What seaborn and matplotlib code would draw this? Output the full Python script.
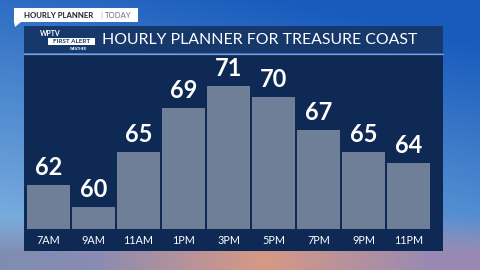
import numpy as np
import pandas as pd
import matplotlib
matplotlib.use("Agg")
import matplotlib.pyplot as plt
import seaborn as sns
from matplotlib.patches import Rectangle, Polygon

# ---- data ----
hours = ["7AM", "9AM", "11AM", "1PM", "3PM", "5PM", "7PM", "9PM", "11PM"]
temps = [62, 60, 65, 69, 71, 70, 67, 65, 64]
title = "HOURLY PLANNER FOR TREASURE COAST"
tab_main = "HOURLY PLANNER"
tab_sub = "TODAY"

sns.set_theme(style="white")
plt.rcParams['font.family'] = ['Lato', 'DejaVu Sans']

W, H = 480, 270
fig = plt.figure(figsize=(4.8, 2.7), dpi=100)


def fx(px):
    return px / W


def fy(py):
    return 1 - py / H


# ---- background (sky + sunset clouds) ----
bg = fig.add_axes([0, 0, 1, 1])
bg.axis('off')
bg.set_zorder(-5)
ys = np.linspace(0, 1, H)[:, None]
xs = np.linspace(0, 1, W)[None, :]
c_dark = np.array([0.10, 0.36, 0.74])
c_light = np.array([0.50, 0.70, 0.88])
s = np.clip(ys * 0.9 + (1 - xs) * 0.35 - 0.15, 0, 1)[..., None]
sky = c_dark * (1 - s) + c_light * s
cl_left = np.array([0.50, 0.55, 0.70])
cl_mid = np.array([0.84, 0.60, 0.52])
cl_right = np.array([0.60, 0.54, 0.70])
hx = xs[..., None]
w_mid = np.clip(1 - np.abs(hx - 0.55) / 0.35, 0, 1)
w_left = np.clip(1 - hx / 0.55, 0, 1) * (1 - w_mid)
w_right = 1 - w_mid - w_left
clouds = cl_left * w_left + cl_mid * w_mid + cl_right * w_right
b = np.clip((ys - 0.80) / 0.14, 0, 1)[..., None]
img = sky * (1 - b) + clouds * b
bg.imshow(img, extent=[0, 1, 0, 1], aspect='auto', zorder=0)
bg.set_xlim(0, 1)
bg.set_ylim(0, 1)

T = bg.transAxes
# ---- panels ----
bg.add_patch(Rectangle((fx(24), fy(251)), fx(443) - fx(24), fy(54) - fy(251),
                       transform=T, facecolor="#0d2954", edgecolor="none", zorder=1))
bg.add_patch(Rectangle((fx(24), fy(53)), fx(443) - fx(24), fy(26) - fy(53),
                       transform=T, facecolor="#17386b", edgecolor="none", zorder=1))
bg.plot([fx(24), fx(443)], [fy(53.5), fy(53.5)], transform=T, color="#7f9fd0", lw=0.9, zorder=2)

# tab
bg.add_patch(Rectangle((fx(14), fy(22)), fx(138) - fx(14), fy(8) - fy(22),
                       transform=T, facecolor="white", edgecolor="none", zorder=2))
bg.add_patch(Polygon([(fx(14), fy(22)), (fx(21), fy(22)), (fx(15), fy(27))],
                     closed=True, transform=T, facecolor="white", edgecolor="none", zorder=2))
bg.text(fx(24), fy(15.5), tab_main, fontsize=5.6, fontweight='bold', color="#1b1f2e",
        va='center', ha='left', zorder=3, transform=T)
bg.text(fx(101), fy(15.5), "|", fontsize=6, color="#aab0bb", va='center', ha='center',
        zorder=3, transform=T)
bg.text(fx(105), fy(15.5), tab_sub, fontsize=5.6, color="#6b7080", va='center', ha='left',
        zorder=3, transform=T)

# logo
bg.text(fx(40), fy(33), "WPTV", fontsize=5, fontweight='bold', color="white",
        va='center', ha='left', zorder=3, transform=T)
bg.add_patch(Rectangle((fx(48), fy(45)), fx(95) - fx(48), fy(38) - fy(45),
                       transform=T, facecolor="white", edgecolor="none", zorder=2))
bg.text(fx(71.5), fy(41.5), "FIRST ALERT", fontsize=4.6, fontweight='bold', color="#17386b",
        va='center', ha='center', zorder=3, transform=T)
bg.text(fx(78), fy(48.5), "WEATHER", fontsize=2.5, fontweight='bold', color="white",
        va='center', ha='center', zorder=3, transform=T)

bg.text(fx(102), fy(40), title, fontsize=11.4, color="white", va='center', ha='left',
        zorder=3, transform=T)

# ---- bars ----
df = pd.DataFrame({"hour": hours, "temp": temps})
ax = fig.add_axes([fx(26), fy(229), (431 - 26) / W, (229 - 42) / H])
ax.set_zorder(5)
ax.set_facecolor("none")
sns.barplot(data=df, x="hour", y="temp", color="#6f7f97", saturation=1,
            width=0.955, ax=ax, zorder=3, linewidth=0, edgecolor="none")
ax.set_xlim(-0.5, 8.5)
ax.set_ylim(58, 75)
for sp in ax.spines.values():
    sp.set_visible(False)
ax.set_xlabel("")
ax.set_ylabel("")
ax.set_yticks([])
ax.tick_params(axis='x', length=0, pad=4.2, labelsize=7.8, labelcolor="white")
for c in ax.containers:
    ax.bar_label(c, labels=[str(v) for v in temps], padding=4, fontsize=17,
                 fontweight='bold', color="white")

fig.savefig("out.png", dpi=100)
